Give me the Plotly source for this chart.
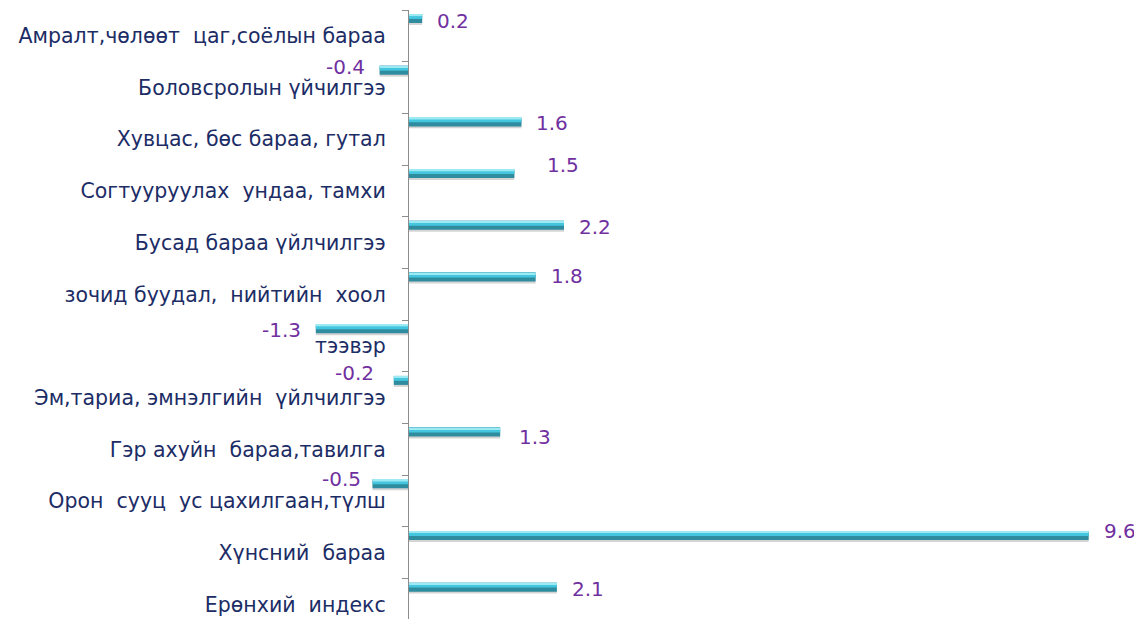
import plotly.graph_objects as go

categories = [
    "Амралт,чөлөөт\u00a0 цаг,соёлын бараа",
    "Боловсролын үйчилгээ",
    "Хувцас, бөс бараа, гутал",
    "Согтууруулах\u00a0 ундаа, тамхи",
    "Бусад бараа үйлчилгээ",
    "зочид буудал,\u00a0 нийтийн\u00a0 хоол",
    "тээвэр",
    "Эм,тариа, эмнэлгийн\u00a0 үйлчилгээ",
    "Гэр ахуйн\u00a0 бараа,тавилга",
    "Орон\u00a0 сууц\u00a0 ус цахилгаан,түлш",
    "Хүнсний\u00a0 бараа",
    "Ерөнхий\u00a0 индекс",
]
values = [0.2, -0.4, 1.6, 1.5, 2.2, 1.8, -1.3, -0.2, 1.3, -0.5, 9.6, 2.1]
value_labels = ["0.2", "-0.4", "1.6", "1.5", "2.2", "1.8", "-1.3", "-0.2", "1.3", "-0.5", "9.6", "2.1"]

# label nudges in pixels (style only): dx right-positive, dy down-positive
label_dx = [0, 0, 0, 18, 0, 0, 0, -5, 4, 3, 0, 0]
label_dy = [2, -4, 1, -9, 1, -1, 1, -8, 5, -5, -5, 1]

SHADOW = "#D4D4D4"
BAR_DARK = "#2F8C9F"
BAR_BRIGHT = "#44C7DE"
HIGHLIGHT = "#9DEAF5"
VALUE_COLOR = "#7030A0"
CAT_COLOR = "#1C2D66"
FONT = "DejaVu Sans, Liberation Sans, Arial"

# page body has an 8px margin; the figure is sized/offset to compensate
BODY = 8
W, H = 1142 - BODY, 619 - BODY
px_per_unit = 70.9
zero_px = 408 - BODY
xmin = -zero_px / px_per_unit
xmax = (W - zero_px) / px_per_unit

fig = go.Figure()
layers = [
    (SHADOW, 0.174, -0.385),
    (BAR_DARK, 0.174, -0.422),
    (BAR_BRIGHT, 0.095, -0.422),
    (HIGHLIGHT, 0.03, -0.412),
]
for color, w, off in layers:
    fig.add_trace(go.Bar(
        y=categories, x=values, orientation="h",
        width=w, offset=off,
        marker=dict(color=color, line=dict(width=0)),
        hoverinfo="skip",
    ))

annotations = []
for i, (c, v, t) in enumerate(zip(categories, values, value_labels)):
    pos = v >= 0
    annotations.append(dict(
        x=v, y=c, xref="x", yref="y", text=t, showarrow=False,
        xanchor="left" if pos else "right", yanchor="middle",
        xshift=(13 if pos else -13) + label_dx[i], yshift=17 - label_dy[i],
        font=dict(family=FONT, size=20, color=VALUE_COLOR),
    ))

fig.update_layout(
    width=W, height=H,
    margin=dict(l=0, r=0, t=10 - BODY, b=0),
    paper_bgcolor="white", plot_bgcolor="white",
    barmode="overlay", showlegend=False,
    xaxis=dict(range=[xmin, xmax], visible=False, domain=[0, 1]),
    yaxis=dict(
        type="category", categoryorder="array", categoryarray=categories,
        range=[11.28, -0.5],
        anchor="free", position=zero_px / W,
        showline=True, linecolor="#8C8C8C", linewidth=1.3,
        ticks="outside", tickson="boundaries", ticklen=6, tickcolor="#8C8C8C",
        tickfont=dict(family=FONT, size=20.5, color=CAT_COLOR),
        ticklabelstandoff=18,
        showgrid=False, zeroline=False, automargin=False,
    ),
    annotations=annotations,
)

fig.write_html("out.html")
